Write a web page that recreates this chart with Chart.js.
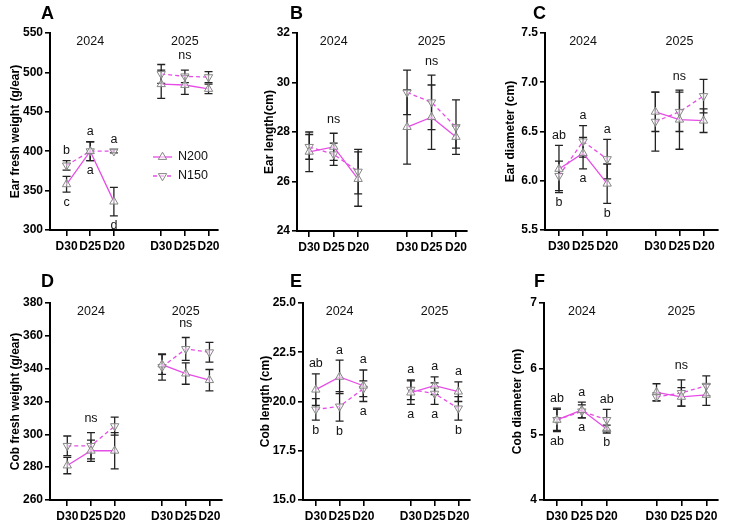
<!DOCTYPE html>
<html>
<head>
<meta charset="utf-8">
<script src="https://cdn.jsdelivr.net/npm/chart.js@4.4.1/dist/chart.umd.min.js"></script>
<style>
  body { margin: 0; background: #fff; font-family: "Liberation Sans", Arial, sans-serif; }
  #wrap { position: relative; width: 730px; height: 532px; overflow: hidden; }
  .box { position: absolute; }
  .tag { position: absolute; font-weight: bold; font-size: 18px; line-height: 18px; color: #000; }
</style>
</head>
<body>
<div id="wrap"></div>
<script>
// shared x categories
const xLabels = ['D30', 'D25', 'D20', 'D30', 'D25', 'D20'];
const xPos = [1, 2, 3, 5, 6, 7];
const yearLabels = ['2024', '2025'];
const yearPos = [2, 6];
const seriesNames = ['N200', 'N150'];

// A  ear fresh weight
const efwN200 = [358, 400, 336, 485, 484, 479];
const efwN200Err = [10, 12, 18, 18, 12, 6];
const efwN150 = [382, 400, 400, 498, 495, 494];
const efwN150Err = [6, 12, 2, 12, 8, 7];
const efwTop = ['b', 'a', 'a', '', 'ns', ''];
const efwBottom = ['c', 'a', 'd', '', '', ''];

// B  ear length
const elN200 = [27.2, 27.4, 26.1, 28.2, 28.6, 27.8];
const elN200Err = [0.8, 0.55, 1.1, 1.5, 1.3, 0.45];
const elN150 = [27.4, 27.1, 26.4, 29.6, 29.2, 28.2];
const elN150Err = [0.5, 0.45, 0.9, 0.9, 1.1, 1.1];
const elTop = ['', 'ns', '', '', 'ns', ''];
const elBottom = ['', '', '', '', '', ''];

// C  ear diameter
const edN200 = [6.12, 6.28, 5.97, 6.7, 6.62, 6.61];
const edN200Err = [0.24, 0.16, 0.2, 0.2, 0.3, 0.12];
const edN150 = [6.05, 6.4, 6.22, 6.6, 6.7, 6.86];
const edN150Err = [0.15, 0.16, 0.2, 0.3, 0.2, 0.17];
const edTop = ['ab', 'a', 'a', '', 'ns', ''];
const edBottom = ['b', 'a', 'b', '', '', ''];

// D  cob fresh weight
const cfwN200 = [281, 290, 290, 342.5, 337, 333];
const cfwN200Err = [5, 6.5, 11, 6, 6.5, 6.5];
const cfwN150 = [293, 293, 305, 341, 352, 350];
const cfwN150Err = [6, 8, 5.5, 8, 7, 6];
const cfwTop = ['', 'ns', '', '', 'ns', ''];
const cfwBottom = ['', '', '', '', '', ''];

// E  cob length
const clN200 = [20.6, 21.25, 20.8, 20.45, 20.8, 20.5];
const clN200Err = [0.8, 0.85, 0.8, 0.6, 0.45, 0.5];
const clN150 = [19.6, 19.75, 20.65, 20.6, 20.4, 19.65];
const clN150Err = [0.55, 0.75, 0.4, 0.5, 0.55, 0.6];
const clTop = ['ab', 'a', 'a', 'a', 'a', 'a'];
const clBottom = ['b', 'b', 'a', 'a', 'a', 'b'];

// F  cob diameter
const cdN200 = [5.22, 5.37, 5.08, 5.64, 5.57, 5.6];
const cdN200Err = [0.18, 0.12, 0.06, 0.13, 0.14, 0.16];
const cdN150 = [5.22, 5.35, 5.22, 5.57, 5.63, 5.74];
const cdN150Err = [0.16, 0.1, 0.16, 0.06, 0.2, 0.15];
const cdTop = ['ab', 'a', 'ab', '', 'ns', ''];
const cdBottom = ['ab', 'a', 'b', '', '', ''];

const MAG = '#e64de6';
const FONT = '"Liberation Sans", Arial, sans-serif';
Chart.defaults.font.family = FONT;
Chart.defaults.color = '#000';

const panels = [
  { tag: 'A', title: 'Ear fresh weight (g/ear)', a: efwN200, ae: efwN200Err, b: efwN150, be: efwN150Err, top: efwTop, bottom: efwBottom,
    yMin: 300, yMax: 550, step: 50, dec: 0, box: [0, 0, 240, 262], yW: 50, padR: 22, padT: 33, xH: 32, xMin: 0.3, xMax: 7.4, tOff: 8, tagXY: [41, 4], legend: true },
  { tag: 'B', title: 'Ear length(cm)', a: elN200, ae: elN200Err, b: elN150, be: elN150Err, top: elTop, bottom: elBottom,
    yMin: 24, yMax: 32, step: 2, dec: 0, box: [240, 0, 240, 262], yW: 57, padR: 13, padT: 33, xH: 31, xMin: 0.5, xMax: 7.45, tOff: 22, tagXY: [50, 4] },
  { tag: 'C', title: 'Ear diameter (cm)', a: edN200, ae: edN200Err, b: edN150, be: edN150Err, top: edTop, bottom: edBottom,
    yMin: 5.5, yMax: 7.5, step: 0.5, dec: 1, box: [480, 0, 250, 262], yW: 65, padR: 12, padT: 33, xH: 32, xMin: 0.42, xMax: 7.6, tOff: 23, tagXY: [53, 4] },
  { tag: 'D', title: 'Cob fresh weight (g/ear)', a: cfwN200, ae: cfwN200Err, b: cfwN150, be: cfwN150Err, top: cfwTop, bottom: cfwBottom,
    yMin: 260, yMax: 380, step: 20, dec: 0, box: [0, 262, 240, 270], yW: 50, padR: 18, padT: 41, xH: 32, xMin: 0.27, xMax: 7.53, tOff: 8, tagXY: [41, 10] },
  { tag: 'E', title: 'Cob length (cm)', a: clN200, ae: clN200Err, b: clN150, be: clN150Err, top: clTop, bottom: clBottom,
    yMin: 15, yMax: 25, step: 2.5, dec: 1, box: [240, 262, 240, 270], yW: 63, padR: 10, padT: 41, xH: 32, xMin: 0.46, xMax: 7.49, tOff: 18, tagXY: [50, 10] },
  { tag: 'F', title: 'Cob diameter (cm)', a: cdN200, ae: cdN200Err, b: cdN150, be: cdN150Err, top: cdTop, bottom: cdBottom,
    yMin: 4, yMax: 7, step: 1, dec: 0, box: [480, 262, 250, 270], yW: 64, padR: 12, padT: 41, xH: 32, xMin: 0.48, xMax: 7.47, tOff: 30, tagXY: [54, 10] },
];

function points(vals, errs) {
  const pts = xPos.map((x, i) => ({ x: x, y: vals[i], e: errs[i] }));
  pts.splice(3, 0, { x: 4, y: null, e: 0 }); // break the line between years
  return pts;
}

const deco = {
  id: 'deco',
  beforeDatasetsDraw(chart) {
    const { ctx, scales: { x, y } } = chart;
    ctx.save();
    ctx.strokeStyle = '#222';
    ctx.lineWidth = 1.3;
    chart.data.datasets.forEach(ds => {
      ds.data.forEach(p => {
        if (p.y == null) return;
        const px = x.getPixelForValue(p.x);
        const y1 = y.getPixelForValue(p.y + p.e), y2 = y.getPixelForValue(p.y - p.e);
        ctx.beginPath();
        ctx.moveTo(px, y1); ctx.lineTo(px, y2);
        ctx.moveTo(px - 4, y1); ctx.lineTo(px + 4, y1);
        ctx.moveTo(px - 4, y2); ctx.lineTo(px + 4, y2);
        ctx.stroke();
      });
    });
    ctx.restore();
  },
  afterDraw(chart, args, o) {
    const { ctx, chartArea, scales: { x, y } } = chart;
    ctx.save();
    ctx.fillStyle = '#111';
    ctx.font = '12.5px ' + FONT;
    ctx.textAlign = 'center';
    ctx.textBaseline = 'middle';
    yearLabels.forEach((t, i) => ctx.fillText(t, x.getPixelForValue(yearPos[i]), chartArea.top + 9));
    xPos.forEach((xv, i) => {
      const pts = chart.data.datasets.map(ds => ds.data.find(p => p.x === xv));
      const hi = Math.max(...pts.map(p => p.y + p.e));
      const lo = Math.min(...pts.map(p => p.y - p.e));
      const px = x.getPixelForValue(xv);
      const t = o.top[i];
      if (t) ctx.fillText(t, px, y.getPixelForValue(hi) - (t === 'ns' ? 14 : 10));
      if (o.bottom[i]) ctx.fillText(o.bottom[i], px, y.getPixelForValue(lo) + 10);
    });
    if (o.legend) {
      ctx.textAlign = 'left';
      chart.data.datasets.forEach((ds, i) => {
        const ly = 157 + i * 19;
        ctx.strokeStyle = ds.borderColor;
        ctx.lineWidth = ds.borderWidth;
        ctx.setLineDash(ds.borderDash || []);
        ctx.beginPath(); ctx.moveTo(153, ly); ctx.lineTo(172, ly); ctx.stroke();
        ctx.setLineDash([]);
        ctx.fillStyle = ds.pointBackgroundColor;
        ctx.strokeStyle = ds.pointBorderColor;
        ctx.lineWidth = 1;
        Chart.helpers.drawPoint(ctx, { pointStyle: 'triangle', rotation: ds.pointRotation || 0, radius: ds.pointRadius, borderWidth: 1 }, 162.5, ly);
        ctx.fillStyle = '#111';
        ctx.fillText(ds.label, 178, ly);
      });
    }
    ctx.restore();
  }
};

const wrap = document.getElementById('wrap');
panels.forEach(p => {
  const [bx, by, bw, bh] = p.box;
  const div = document.createElement('div');
  div.className = 'box';
  div.style.cssText = `left:${bx}px;top:${by}px;width:${bw}px;height:${bh}px`;
  const cv = document.createElement('canvas');
  div.appendChild(cv);
  wrap.appendChild(div);
  const tag = document.createElement('div');
  tag.className = 'tag';
  tag.textContent = p.tag;
  tag.style.left = (bx + p.tagXY[0]) + 'px';
  tag.style.top = (by + p.tagXY[1]) + 'px';
  wrap.appendChild(tag);

  const yW = p.yW, xH = p.xH;
  new Chart(cv, {
    type: 'line',
    data: {
      datasets: [
        { label: seriesNames[0], data: points(p.a, p.ae), borderColor: MAG, borderWidth: 1.3,
          pointStyle: 'triangle', pointRadius: 4.8, pointBorderColor: '#858585', pointBorderWidth: 1,
          pointBackgroundColor: 'rgba(255,255,255,0.55)', spanGaps: false, tension: 0 },
        { label: seriesNames[1], data: points(p.b, p.be), borderColor: MAG, borderWidth: 1.3, borderDash: [4, 3],
          pointStyle: 'triangle', pointRotation: 180, pointRadius: 4.8, pointBorderColor: '#858585', pointBorderWidth: 1,
          pointBackgroundColor: 'rgba(255,255,255,0.55)', spanGaps: false, tension: 0 },
      ]
    },
    options: {
      responsive: true,
      maintainAspectRatio: false,
      animation: false,
      layout: { padding: { top: p.padT, right: p.padR, left: 0, bottom: 0 } },
      plugins: {
        legend: { display: false },
        tooltip: { enabled: false },
        deco: { top: p.top, bottom: p.bottom, legend: !!p.legend },
      },
      scales: {
        x: {
          type: 'linear', min: p.xMin, max: p.xMax,
          afterBuildTicks: s => { s.ticks = xPos.map(v => ({ value: v })); },
          afterFit: s => { s.height = xH; },
          ticks: { autoSkip: false, maxRotation: 0, padding: 3, color: '#000',
                   font: { size: 12, weight: 'bold' },
                   callback: v => xLabels[xPos.indexOf(v)] },
          grid: { drawOnChartArea: false, drawTicks: true, tickLength: 6, color: '#000', lineWidth: 1.6 },
          border: { display: true, color: '#000', width: 2 },
        },
        y: {
          min: p.yMin, max: p.yMax,
          afterFit: s => { s.width = yW; },
          ticks: { stepSize: p.step, padding: 2, color: '#000', font: { size: 12, weight: 'bold' },
                   callback: v => Number(v).toFixed(p.dec) },
          grid: { drawOnChartArea: false, drawTicks: true, tickLength: 5, color: '#000', lineWidth: 1.6 },
          border: { display: true, color: '#000', width: 2 },
          title: { display: true, text: p.title, color: '#000', font: { size: 12, weight: 'bold' },
                   padding: { top: p.tOff, bottom: 0 } },
        }
      }
    },
    plugins: [deco]
  });
});
</script>
</body>
</html>
